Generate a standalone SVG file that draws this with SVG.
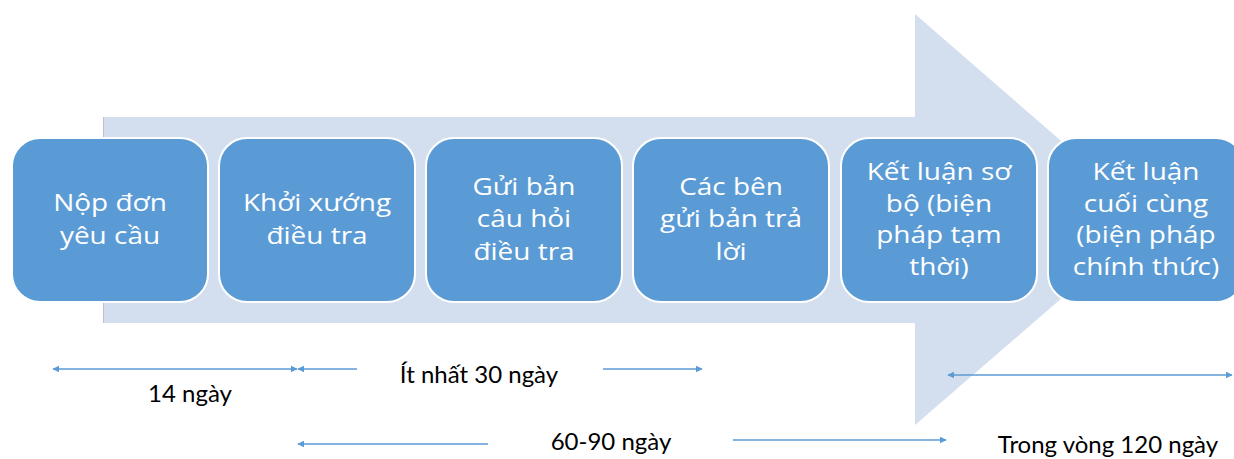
<svg xmlns="http://www.w3.org/2000/svg" width="1234" height="459" viewBox="0 0 1234 459">
  <style>
    .step rect { fill: #5B9BD5; stroke: #FFFFFF; stroke-width: 2; }
    .step text { fill: #FFFFFF; font-family: "Open Sans", "Noto Sans", sans-serif; font-size: 23.5px; text-anchor: middle; }
    .span { stroke: #5B9BD5; stroke-width: 1.5; fill: none; }
    .label { fill: #000000; font-family: Lato, "Liberation Sans", sans-serif; font-size: 24px; text-anchor: middle; }
  </style>
  <defs>
    <marker id="head" viewBox="0 0 10 10" refX="9" refY="5" markerWidth="7" markerHeight="7" markerUnits="userSpaceOnUse" orient="auto-start-reverse">
      <path d="M0,0 L10,5 L0,10 z" fill="#5B9BD5"/>
    </marker>
  </defs>
  <rect width="1234" height="459" fill="#FFFFFF"/>

  <!-- background process arrow -->
  <g id="process-arrow">
    <polygon points="103,117 915,117 915,14 1152,220 915,425 915,323 103,323" fill="#D3DEEF"/>
    <line x1="103.5" y1="117" x2="103.5" y2="323" stroke="#B9C1CD" stroke-width="1"/>
  </g>

  <!-- steps: labels are set in a slightly widened face -->
  <g id="step-1" class="step">
    <rect x="12" y="138" width="196" height="164" rx="28"/>
    <g transform="translate(110 0) scale(1.19 1)">
      <text x="0" y="211">Nộp đơn<tspan x="0" dy="33">yêu cầu</tspan></text>
    </g>
  </g>
  <g id="step-2" class="step">
    <rect x="219" y="138" width="196" height="164" rx="28"/>
    <g transform="translate(317 0) scale(1.19 1)">
      <text x="0" y="211">Khởi xướng<tspan x="0" dy="33">điều tra</tspan></text>
    </g>
  </g>
  <g id="step-3" class="step">
    <rect x="426" y="138" width="196" height="164" rx="28"/>
    <g transform="translate(524 0) scale(1.19 1)">
      <text x="0" y="195">Gửi bản<tspan x="0" dy="32.5">câu hỏi</tspan><tspan x="0" dy="32.5">điều tra</tspan></text>
    </g>
  </g>
  <g id="step-4" class="step">
    <rect x="633" y="138" width="196" height="164" rx="28"/>
    <g transform="translate(731 0) scale(1.19 1)">
      <text x="0" y="195">Các bên<tspan x="0" dy="32.5">gửi bản trả</tspan><tspan x="0" dy="32.5">lời</tspan></text>
    </g>
  </g>
  <g id="step-5" class="step">
    <rect x="841" y="138" width="196" height="164" rx="28"/>
    <g transform="translate(939 0) scale(1.19 1)">
      <text x="0" y="180">Kết luận sơ<tspan x="0" dy="31.7">bộ (biện</tspan><tspan x="0" dy="31.7">pháp tạm</tspan><tspan x="0" dy="31.7">thời)</tspan></text>
    </g>
  </g>
  <g id="step-6" class="step">
    <rect x="1048" y="138" width="196" height="164" rx="28"/>
    <g transform="translate(1146 0) scale(1.19 1)">
      <text x="0" y="180">Kết luận<tspan x="0" dy="31.7">cuối cùng</tspan><tspan x="0" dy="31.7">(biện pháp</tspan><tspan x="0" dy="31.7">chính thức)</tspan></text>
    </g>
  </g>

  <!-- time spans -->
  <g id="connectors">
    <line class="span" x1="53" y1="369" x2="297" y2="369" marker-start="url(#head)" marker-end="url(#head)"/>
    <line class="span" x1="357" y1="369" x2="298" y2="369" marker-end="url(#head)"/>
    <line class="span" x1="603" y1="369" x2="702" y2="369" marker-end="url(#head)"/>
    <line class="span" x1="488" y1="444" x2="298" y2="444" marker-end="url(#head)"/>
    <line class="span" x1="733" y1="440" x2="946" y2="440" marker-end="url(#head)"/>
    <line class="span" x1="948" y1="375" x2="1232" y2="375" marker-start="url(#head)" marker-end="url(#head)"/>
  </g>

  <g id="labels">
    <text class="label" x="190" y="402">14 ngày</text>
    <text class="label" x="479" y="383">Ít nhất 30 ngày</text>
    <text class="label" x="611" y="450">60-90 ngày</text>
    <text class="label" x="1108" y="453">Trong vòng 120 ngày</text>
  </g>
</svg>
